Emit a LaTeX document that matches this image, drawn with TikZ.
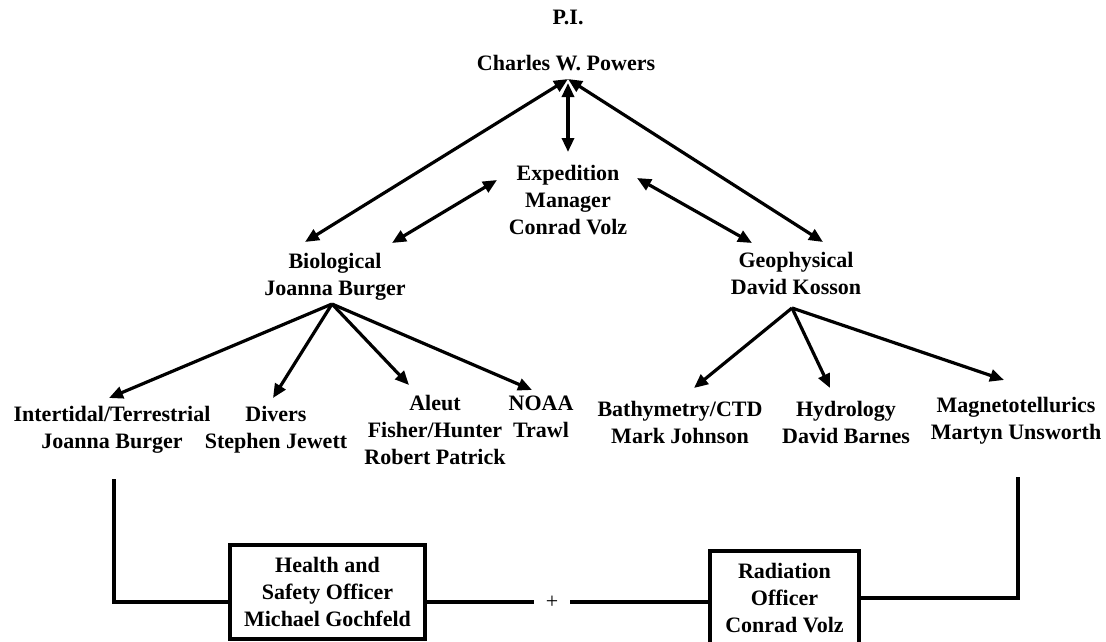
\documentclass[tikz,border=0pt]{standalone}
\usepackage{fontspec}
\setmainfont{Liberation Serif}
\usetikzlibrary{arrows.meta}
\begin{document}
\begin{tikzpicture}[x=1pt,y=-1pt,
  txt/.style={font=\fontsize{22}{27}\selectfont\bfseries, align=center, anchor=base, inner sep=0pt},
  conn/.style={line width=3.2pt},
  tipA/.tip={Triangle[length=14pt,width=12pt]},
  arr/.style={conn, -tipA},
  darr/.style={conn, tipA-tipA},
  box/.style={draw, line width=3.5pt, font=\fontsize{22}{27}\selectfont\bfseries, align=center,
    minimum width=195pt, minimum height=94pt, inner sep=0pt},
  wire/.style={line width=3.5pt},
]
\useasboundingbox (0,0) rectangle (1106,642);

% text nodes (anchor = baseline of the last line)
\node[txt] (pi) at (568,25) {P.I.};
\node[txt] (powers) at (566,70.5) {Charles W. Powers};
\node[txt] (exp) at (568,234.5) {Expedition\\Manager\\Conrad Volz};
\node[txt] (bio) at (335,295.5) {Biological\\Joanna Burger};
\node[txt] (geo) at (796,294.5) {Geophysical\\David Kosson};
\node[txt] (inter) at (112,448.5) {Intertidal/Terrestrial\\Joanna Burger};
\node[txt] (divers) at (276,448.5) {Divers\\Stephen Jewett};
\node[txt] (aleut) at (435,464.5) {Aleut\\Fisher/Hunter\\Robert Patrick};
\node[txt] (noaa) at (541,437.5) {NOAA\\Trawl};
\node[txt] (bathy) at (680,443.5) {Bathymetry/CTD\\Mark Johnson};
\node[txt] (hydro) at (846,443.5) {Hydrology\\David Barnes};
\node[txt] (magneto) at (1016,439.5) {Magnetotellurics\\Martyn Unsworth};

% boxes
\node[box] (hs) at (327.5,592) {Health and\\Safety Officer\\Michael Gochfeld};
\node[box, minimum width=149pt] (rad) at (784.5,598) {Radiation\\Officer\\Conrad Volz};
\node[font=\fontsize{22}{27}\selectfont, inner xsep=12pt, inner ysep=0pt] (plus) at (552,602) {+};

% connector end points
\coordinate (apex) at (568,79);
\coordinate (bioL) at (305,242);
\coordinate (geoR) at (823,242);
\coordinate (expT) at (568,83);
\coordinate (expB) at (568,152);
\coordinate (expL1) at (497,180);
\coordinate (expL2) at (392,243);
\coordinate (expR1) at (637,178);
\coordinate (expR2) at (752,243);
\coordinate (bioO) at (332,304);
\coordinate (geoO) at (792,308);
\coordinate (tInter) at (109,398);
\coordinate (tDivers) at (273,398);
\coordinate (tAleut) at (409,385);
\coordinate (tNoaa) at (532,390);
\coordinate (tBathy) at (694,388);
\coordinate (tHydro) at (830,388);
\coordinate (tMagneto) at (1004,380);
\coordinate (ltop) at (114,479);
\coordinate (rtop) at (1018,477);

% top arrows
\draw[darr] (apex) -- (bioL);
\draw[darr] (apex) -- (geoR);
\draw[darr] (expT) -- (expB);
\draw[darr] (expL1) -- (expL2);
\draw[darr] (expR1) -- (expR2);

% biological branches
\draw[arr] (bioO) -- (tInter);
\draw[arr] (bioO) -- (tDivers);
\draw[arr] (bioO) -- (tAleut);
\draw[arr] (bioO) -- (tNoaa);

% geophysical branches
\draw[arr] (geoO) -- (tBathy);
\draw[arr] (geoO) -- (tHydro);
\draw[arr] (geoO) -- (tMagneto);

% bottom wiring
\draw[wire] (ltop) |- (hs.west |- plus);
\draw[wire] (hs.east |- plus) -- (plus.west);
\draw[wire] (plus.east) -- (rad.west |- plus);
\draw[wire] (rad.east) -| (rtop);
\end{tikzpicture}
\end{document}
